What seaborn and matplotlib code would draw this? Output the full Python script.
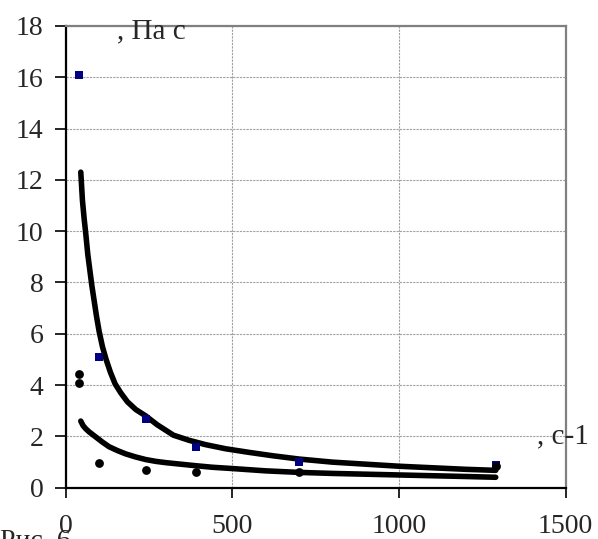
import matplotlib
matplotlib.use("Agg")
import matplotlib.pyplot as plt
import pandas as pd
import seaborn as sns

# measured points
blue_x = [40, 100, 240, 390, 700, 1290]
blue_y = [16.1, 5.1, 2.68, 1.6, 1.0, 0.9]
black_x = [40, 40, 100, 240, 390, 700, 1290]
black_y = [4.45, 4.1, 0.95, 0.69, 0.6, 0.63, 0.85]

# trend curves
upper_x = [45, 50, 55, 60, 66, 72, 78, 85, 92, 100, 110, 121, 134, 148, 165, 185, 210, 240,
           275, 323, 370, 420, 480, 550, 620, 700, 800, 900, 1000, 1100, 1200, 1290]
upper_y = [12.3, 11.2, 10.5, 9.9, 9.1, 8.5, 7.9, 7.3, 6.7, 6.1, 5.5, 5.0, 4.5, 4.05, 3.7, 3.35, 3.05, 2.8,
           2.45, 2.05, 1.85, 1.68, 1.52, 1.38, 1.25, 1.12, 1.0, 0.92, 0.84, 0.78, 0.72, 0.68]
lower_x = [45, 52, 60, 70, 80, 93, 110, 130, 155, 180, 210, 240, 270, 300, 345, 390, 440, 500,
           600, 700, 800, 900, 1000, 1100, 1200, 1290]
lower_y = [2.6, 2.42, 2.3, 2.18, 2.08, 1.95, 1.78, 1.6, 1.45, 1.32, 1.2, 1.1, 1.03, 0.98, 0.92, 0.86, 0.8, 0.75,
           0.66, 0.6, 0.56, 0.53, 0.5, 0.47, 0.44, 0.41]

x_ticks = [0, 500, 1000, 1500]
y_ticks = [0, 2, 4, 6, 8, 10, 12, 14, 16, 18]

sns.set_theme(style="white")
plt.rcParams["font.family"] = ["Liberation Serif", "DejaVu Serif"]

fig = plt.figure(figsize=(5.98, 5.39), dpi=100)
ax = fig.add_axes([0.11, 0.095, 0.836, 0.857])

upper = pd.DataFrame({"x": upper_x, "y": upper_y})
lower = pd.DataFrame({"x": lower_x, "y": lower_y})
sns.lineplot(data=upper, x="x", y="y", color="black", linewidth=4, sort=False, ax=ax)
sns.lineplot(data=lower, x="x", y="y", color="black", linewidth=4, sort=False, ax=ax)

sns.scatterplot(x=blue_x, y=blue_y, marker="s", color="#000080", s=40, linewidth=0, ax=ax, zorder=3)
sns.scatterplot(x=black_x, y=black_y, marker="o", color="black", s=40, linewidth=0, ax=ax, zorder=3)

ax.set_xlim(0, 1500)
ax.set_ylim(0, 18)
ax.set_xticks(x_ticks)
ax.set_yticks(y_ticks)
ax.set_xlabel("")
ax.set_ylabel("")

ax.grid(True, color="#a0a0a0", linestyle=(0, (2, 1)), linewidth=0.8)
ax.set_axisbelow(True)

for side in ["left", "bottom"]:
    ax.spines[side].set_color("black")
    ax.spines[side].set_linewidth(1.6)
for side in ["top", "right"]:
    ax.spines[side].set_color("#808080")
    ax.spines[side].set_linewidth(1.6)

ax.tick_params(axis="y", direction="out", length=8, width=1.2, color="black",
               labelsize=20, pad=8, left=True)
ax.tick_params(axis="x", direction="out", length=7, width=1.2, color="black",
               labelsize=20, pad=12, bottom=True)

ax.text(0.1025, 0.972, ", Па с", transform=ax.transAxes, fontsize=21,
        ha="left", va="baseline")
fig.text(0.898, 0.178, ", с-1", fontsize=21, ha="left", va="baseline")
fig.text(0.0, 0.019, "Рис. 6", fontsize=20, ha="left", va="top")

fig.savefig("out.png", dpi=100)
